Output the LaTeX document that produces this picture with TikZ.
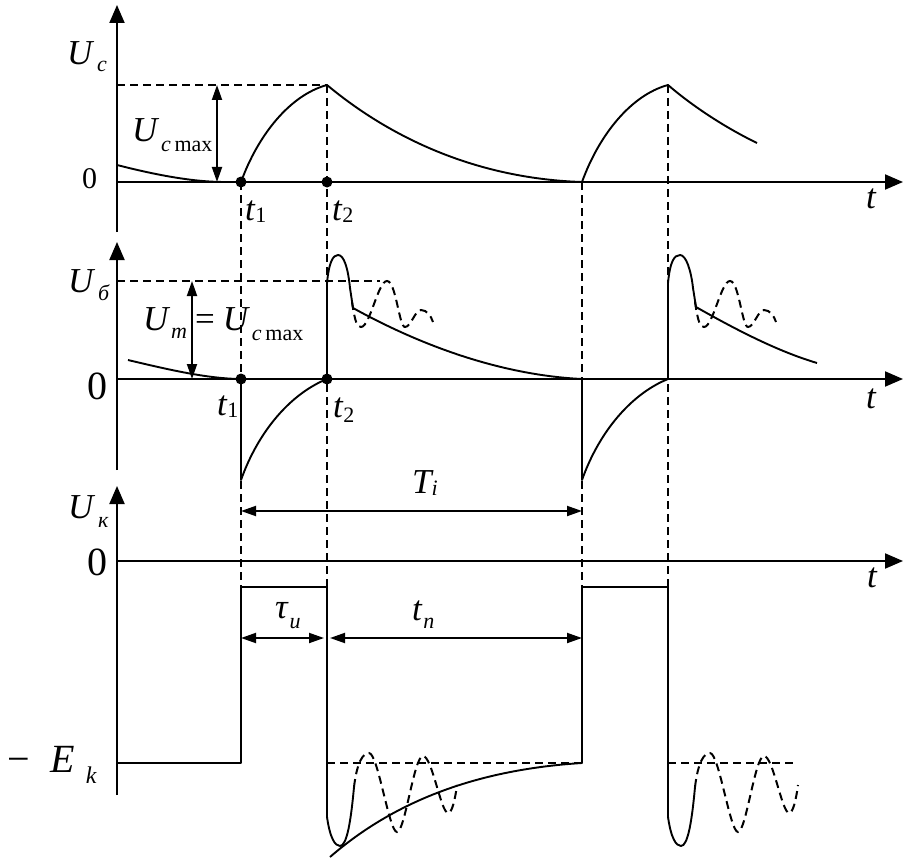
\documentclass[tikz,border=0pt]{standalone}
\usepackage{fontspec}
\setmainfont{Liberation Serif}
\usetikzlibrary{arrows.meta}
\newcommand\fsz[1]{\fontsize{#1}{#1}\selectfont}
\newcommand\lbl[4]{\textit{#1}\kern#4\raisebox{-#3}{\fsz{22}\textit{#2}}}
\begin{document}
\begin{tikzpicture}[x=1pt,y=-1pt,
  axis/.style={line width=2pt,-{Triangle[length=18pt,width=15pt]}},
  wave/.style={line width=1.9pt,line join=round},
  dsh/.style={line width=2pt,dash pattern=on 8pt off 5pt},
  dim/.style={line width=1.9pt,{Triangle[length=15pt,width=10pt]}-{Triangle[length=15pt,width=10pt]}},
  lab/.style={anchor=base west,inner sep=0pt,outer sep=0pt,font=\fsz{35}},
  dot/.style={circle,fill=black,inner sep=0pt,minimum size=11pt}]
\useasboundingbox (0,0) rectangle (917,861);
% axes
\draw[axis] (117,232) -- (117,5);
\draw[axis] (117,182) -- (903,182);
\draw[axis] (117,470) -- (117,242);
\draw[axis] (117,379) -- (903,379);
\draw[axis] (117,795) -- (117,486);
\draw[axis] (117,561) -- (903,561);
% dashed guides
\draw[dsh] (241,182) -- (241,587);
\draw[dsh] (327,85) -- (327,587);
\draw[dsh] (582,182) -- (582,587);
\draw[dsh] (668,85) -- (668,587);
\draw[dsh] (117,85) -- (327,85);
\draw[dsh] (117,281) -- (380,281);
\draw[dsh] (327,763) -- (582,763);
\draw[dsh] (668,763) -- (795,763);
% dimension arrows
\coordinate (a1) at (217,85); \coordinate (a2) at (217,182);
\coordinate (b1) at (192,281); \coordinate (b2) at (192,379);
\coordinate (c1) at (241,511); \coordinate (c2) at (582,511);
\coordinate (e1) at (241,638); \coordinate (e2) at (324,638);
\coordinate (f1) at (330,638); \coordinate (f2) at (582,638);
\draw[dim] (a1) -- (a2);
\draw[dim] (b1) -- (b2);
\draw[dim] (c1) -- (c2);
\draw[dim] (e1) -- (e2);
\draw[dim] (f1) -- (f2);
% Uc waveform
\draw[wave] (117,165) .. controls (160,176) and (195,182) .. (225,182);
\draw[wave] (241,182) .. controls (258,135) and (290,95) .. (327,85)
  .. controls (375,125) and (460,178) .. (582,182)
  .. controls (599,135) and (631,95) .. (668,85)
  .. controls (690,104) and (722,126) .. (757,143);
% Ub waveform
\draw[wave] (128,360) .. controls (170,370) and (205,378) .. (238,379);
\draw[wave] (241,379) -- (241,480) .. controls (258,432) and (290,394) .. (327,379)
  -- (327,283) .. controls (329,262) and (333,255) .. (338,255)
  .. controls (344,255) and (348,268) .. (350,288) -- (353,308)
  .. controls (420,345) and (500,375) .. (582,379)
  -- (582,480) .. controls (599,432) and (631,394) .. (668,379)
  -- (668,283) .. controls (670,262) and (674,255) .. (680,255)
  .. controls (686,255) and (691,270) .. (693,288) -- (696,307)
  .. controls (740,332) and (780,352) .. (817,363);
\draw[dsh] (352,302) .. controls (355,322) and (357,327) .. (361,327)
  .. controls (370,327) and (378,281) .. (387,281)
  .. controls (396,281) and (399,327) .. (405,327)
  .. controls (411,327) and (415,310) .. (421,310)
  .. controls (427,310) and (431,316) .. (433,322);
\begin{scope}[xshift=343pt]
\draw[dsh] (352,302) .. controls (355,322) and (357,327) .. (361,327)
  .. controls (370,327) and (378,281) .. (387,281)
  .. controls (396,281) and (399,327) .. (405,327)
  .. controls (411,327) and (415,310) .. (421,310)
  .. controls (427,310) and (431,316) .. (433,322);
\end{scope}
% Uk waveform
\draw[wave] (117,763) -- (241,763) -- (241,587) -- (327,587) -- (327,817)
  .. controls (330,838) and (335,846) .. (340,846)
  .. controls (347,846) and (351,820) .. (354,787);
\draw[wave] (330,857) .. controls (390,805) and (470,770) .. (582,763)
  -- (582,587) -- (668,587) -- (668,817)
  .. controls (671,838) and (676,846) .. (681,846)
  .. controls (688,846) and (692,820) .. (695,787);
\draw[dsh] (354,787) .. controls (357,762) and (363,753) .. (369,753)
  .. controls (378,753) and (389,832) .. (397,832)
  .. controls (405,832) and (414,756) .. (423,756)
  .. controls (432,756) and (441,813) .. (448,813)
  .. controls (452,813) and (455,800) .. (457,785);
\begin{scope}[xshift=341pt]
\draw[dsh] (354,787) .. controls (357,762) and (363,753) .. (369,753)
  .. controls (378,753) and (389,832) .. (397,832)
  .. controls (405,832) and (414,756) .. (423,756)
  .. controls (432,756) and (441,813) .. (448,813)
  .. controls (452,813) and (455,800) .. (457,785);
\end{scope}
% dots
\node[dot] (d1) at (241,182) {};
\node[dot] (d2) at (327,182) {};
\node[dot] (d3) at (241,379) {};
\node[dot] (d4) at (327,379) {};
% labels
\node[lab] (Uc) at (67,65) {\lbl{U}{c}{7pt}{3pt}};
\node[lab] (Ucm) at (132,142) {\lbl{U}{c\,\upshape max}{10pt}{2pt}};
\node[lab,font=\fsz{30}] (z1) at (82,188) {0};
\node[lab] (t1a) at (245,220) {\lbl{t}{\upshape 1}{2pt}{0pt}};
\node[lab] (t2a) at (332,220) {\lbl{t}{\upshape 2}{2pt}{0pt}};
\node[lab] (ta) at (866,208) {\textit{t}};
\node[lab] (Ub) at (68,292) {\lbl{U}{б}{8pt}{3pt}};
\node[lab] (Um) at (143,330) {\lbl{U}{m}{8pt}{1pt}\kern8pt=\kern8pt\lbl{U}{c\,\upshape max}{10pt}{2pt}};
\node[lab,font=\fsz{40}] (z2) at (87,399) {0};
\node[lab] (t1b) at (217,415) {\lbl{t}{\upshape 1}{2pt}{0pt}};
\node[lab] (t2b) at (333,417) {\lbl{t}{\upshape 2}{5pt}{0pt}};
\node[lab] (tb) at (866,408) {\textit{t}};
\node[lab] (Uk) at (68,518) {\lbl{U}{к}{9pt}{3pt}};
\node[lab] (Ti) at (412,493) {\lbl{T}{i}{2pt}{-2pt}};
\node[lab,font=\fsz{40}] (z3) at (87,575) {0};
\node[lab] (tc) at (867,587) {\textit{t}};
\node[lab] (tau) at (275,618) {\lbl{τ}{и}{10pt}{1pt}};
\node[lab] (tn) at (412,620) {\lbl{t}{п}{8pt}{1pt}};
\node[lab,font=\fsz{40}] (Ek) at (8,772) {−\kern20pt\textit{E}\kern11pt\raisebox{-11pt}{\fsz{24}\textit{k}}};
\end{tikzpicture}
\end{document}
